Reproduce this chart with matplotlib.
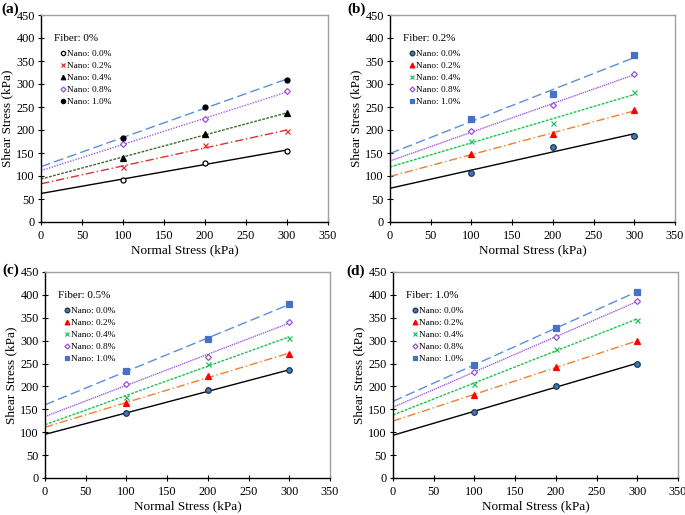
import numpy as np
import matplotlib
matplotlib.use("Agg")
import matplotlib.pyplot as plt

plt.rcParams["font.family"] = ["Liberation Serif", "DejaVu Serif"]

normal_stress = [100, 200, 300]
nano_labels = ["Nano: 0.0%", "Nano: 0.2%", "Nano: 0.4%", "Nano: 0.8%", "Nano: 1.0%"]
panel_tags = ["(a)", "(b)", "(c)", "(d)"]
fiber_titles = ["Fiber: 0%", "Fiber: 0.2%", "Fiber: 0.5%", "Fiber: 1.0%"]

# shear stress (kPa) per panel, rows = nano content
shear_a = [[92, 128, 155], [119, 167, 197], [140, 192, 236], [170, 223, 284], [182, 251, 309]]
shear_b = [[107, 164, 186], [148, 191, 243], [177, 215, 282], [197, 254, 322], [223, 279, 362]]
shear_c = [[141, 192, 235], [163, 223, 271], [178, 249, 306], [205, 265, 341], [234, 304, 380]]
shear_d = [[145, 200, 250], [182, 243, 299], [206, 281, 346], [232, 308, 386], [247, 328, 407]]
panels = [shear_a, shear_b, shear_c, shear_d]

# marker styles: (marker, facecolor, edgecolor, size)
markers_a = [("o", "white", "black", 3.6), ("x", "#e03030", "#e03030", 3.6),
             ("^", "black", "black", 3.8), ("D", "white", "#9a4fd0", 3.0),
             ("o", "black", "black", 3.6)]
markers_bcd = [("o", "#3f78b8", "#1f3550", 4.0), ("^", "red", "red", 4.0),
               ("x", "#1fc060", "#1fc060", 3.6), ("D", "white", "#9a4fd0", 3.0),
               ("s", "#4472c4", "#4472c4", 4.0)]
lines_a = [("black", "-"), ("#e03030", (0, (6, 2, 1, 2))), ("#3d6b2a", (0, (2, 1))),
           ("#a05ee0", (0, (1, 1))), ("#5b8fe0", (0, (7, 3)))]
lines_bcd = [("black", "-"), ("#f08030", (0, (6, 2, 1, 2))), ("#20c050", (0, (2, 1))),
             ("#a05ee0", (0, (1, 0.6))), ("#5b8fe0", (0, (7, 3)))]

# axes rectangles in pixels: left, top, right, bottom
W, H = 685, 515
boxes = [(41, 15, 328, 222), (390, 15, 675, 222), (45, 272, 330, 478), (393, 272, 678, 478)]
tag_pos = [(1, 9), (347, 9), (2, 270), (346, 271)]

fig = plt.figure(figsize=(W / 100, H / 100), dpi=100)
xs = np.array(normal_stress, dtype=float)
xfit = np.array([0.0, 300.0])

for i, data in enumerate(panels):
    l, t, r, b = boxes[i]
    ax = fig.add_axes([l / W, 1 - b / H, (r - l) / W, (b - t) / H])
    mk = markers_a if i == 0 else markers_bcd
    ls = lines_a if i == 0 else lines_bcd
    handles = []
    for j, ys in enumerate(data):
        m, fc, ec, sz = mk[j]
        slope, icpt = np.polyfit(xs, np.array(ys, dtype=float), 1)
        ax.plot(xfit, icpt + slope * xfit, color=ls[j][0], linestyle=ls[j][1], lw=1.0, zorder=2)
        h, = ax.plot(xs, ys, linestyle="none", marker=m, mfc=fc, mec=ec, ms=sz,
                     mew=0.9, label=nano_labels[j], zorder=3)
        handles.append(h)
    ax.set_xlim(0, 350)
    ax.set_ylim(0, 450)
    ax.set_xticks(range(0, 351, 50))
    ax.set_yticks(range(0, 451, 50))
    ax.tick_params(direction="inout", length=5, width=0.8, labelsize=8.8, pad=2)
    ax.tick_params(axis="x", pad=3)
    for s in ["top", "right"]:
        ax.spines[s].set_color("#a0a0a0")
        ax.spines[s].set_linewidth(1.0)
    for s in ["left", "bottom"]:
        ax.spines[s].set_linewidth(1.0)
    ax.set_xlabel("Normal Stress (kPa)", fontsize=9.5, labelpad=2)
    ax.set_ylabel("Shear Stress (kPa)", fontsize=9.5, labelpad=2)
    ax.legend(handles=handles, loc="upper left", bbox_to_anchor=(0.055, 0.85),
              frameon=False, fontsize=6.7, handlelength=0.5, handletextpad=0.25,
              labelspacing=0.38, borderaxespad=0, markerscale=0.85)
    ax.text(0.045, 0.885, fiber_titles[i], transform=ax.transAxes, fontsize=8,
            ha="left", va="center")
    tx, ty = tag_pos[i]
    fig.text(tx / W, 1 - ty / H, panel_tags[i], fontsize=11, fontweight="bold",
             ha="left", va="center")

fig.savefig("out.png", dpi=100)
